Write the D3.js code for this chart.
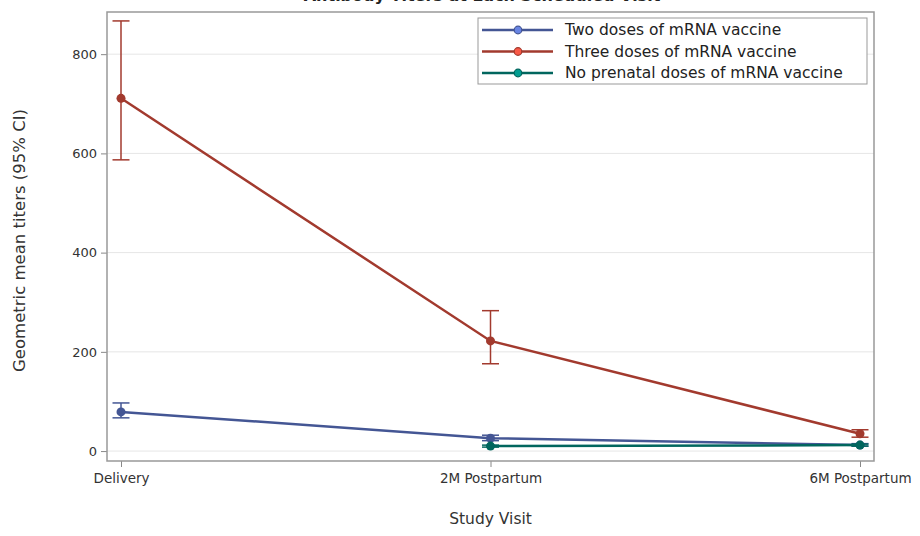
<!DOCTYPE html>
<html>
<head>
<meta charset="utf-8">
<script src="https://cdn.jsdelivr.net/npm/d3@7"></script>
<style>
  html, body { margin: 0; padding: 0; background: #fff; }
  svg { display: block; font-family: "DejaVu Sans", "Open Sans", sans-serif; }
</style>
</head>
<body>
<svg id="chart" width="920" height="536"></svg>
<script>
// Study visits on the x axis
const visits = ["Delivery", "2M Postpartum", "6M Postpartum"];

// Geometric mean titers with 95% confidence limits, per vaccine group
const twoDoseGMT   = [79, 26, 12];
const twoDoseLow   = [67, 21, 10];
const twoDoseHigh  = [97, 32, 15];

const threeDoseGMT  = [711, 222, 35];
const threeDoseLow  = [587, 176, 28];
const threeDoseHigh = [867, 283, 43];

// No prenatal doses: no titer measured at delivery
const noDoseGMT  = [null, 10, 12];
const noDoseLow  = [null, 8, 10];
const noDoseHigh = [null, 12, 14];

const seriesNames  = ["Two doses of mRNA vaccine", "Three doses of mRNA vaccine", "No prenatal doses of mRNA vaccine"];
const seriesColors = ["#445694", "#A23A2E", "#01665E"];

const yTicks = [0, 200, 400, 600, 800];

const series = [
  { name: seriesNames[0], color: seriesColors[0], gmt: twoDoseGMT,   low: twoDoseLow,   high: twoDoseHigh },
  { name: seriesNames[1], color: seriesColors[1], gmt: threeDoseGMT, low: threeDoseLow, high: threeDoseHigh },
  { name: seriesNames[2], color: seriesColors[2], gmt: noDoseGMT,    low: noDoseLow,    high: noDoseHigh }
];

const svg = d3.select("#chart");
const frame = { left: 107, right: 874, top: 12, bottom: 461 };
const inset = 14;

const x = d3.scalePoint()
  .domain(visits)
  .range([frame.left + inset, frame.right - inset]);

const y = d3.scaleLinear()
  .domain([-20, 885])
  .range([frame.bottom, frame.top]);

// Title (sits above the frame)
svg.append("text")
  .attr("x", 482).attr("y", 1)
  .attr("text-anchor", "middle")
  .attr("font-size", 16).attr("font-weight", "bold")
  .attr("fill", "#222")
  .text("Antibody Titers at Each Scheduled Visit");

// Horizontal gridlines
svg.append("g")
  .selectAll("line")
  .data(yTicks)
  .join("line")
  .attr("x1", frame.left).attr("x2", frame.right)
  .attr("y1", d => y(d)).attr("y2", d => y(d))
  .attr("stroke", "#e6e6e6").attr("stroke-width", 1);

// Y axis
const yAxis = svg.append("g")
  .attr("transform", `translate(${frame.left},0)`)
  .call(d3.axisLeft(y).tickValues(yTicks).tickSize(6).tickPadding(4));
yAxis.select(".domain").remove();
yAxis.selectAll(".tick line").attr("stroke", "#888");
yAxis.selectAll(".tick text").attr("fill", "#333").attr("font-size", 13)
  .attr("font-family", "'DejaVu Sans', sans-serif");

// X axis
const xAxis = svg.append("g")
  .attr("transform", `translate(0,${frame.bottom})`)
  .call(d3.axisBottom(x).tickSize(6).tickPadding(6));
xAxis.select(".domain").remove();
xAxis.selectAll(".tick line").attr("stroke", "#888");
xAxis.selectAll(".tick text").attr("fill", "#333").attr("font-size", 13.5)
  .attr("font-family", "'DejaVu Sans', sans-serif");

// Plot frame
svg.append("rect")
  .attr("x", frame.left).attr("y", frame.top)
  .attr("width", frame.right - frame.left).attr("height", frame.bottom - frame.top)
  .attr("fill", "none").attr("stroke", "#999").attr("stroke-width", 1.5);

// Axis titles
svg.append("text")
  .attr("x", (frame.left + frame.right) / 2).attr("y", 524)
  .attr("text-anchor", "middle").attr("font-size", 15.5).attr("fill", "#333")
  .text("Study Visit");

svg.append("text")
  .attr("transform", `translate(25,${(frame.top + frame.bottom) / 2 + 4}) rotate(-90)`)
  .attr("text-anchor", "middle").attr("font-size", 16.5).attr("fill", "#333")
  .text("Geometric mean titers (95% CI)");

// Series: error bars, lines, markers
const line = d3.line()
  .defined(d => d.v != null)
  .x(d => x(d.visit))
  .y(d => y(d.v));

const capHalf = 8.5;

series.forEach(s => {
  const pts = visits.map((v, i) => ({ visit: v, v: s.gmt[i], lo: s.low[i], hi: s.high[i] }))
    .filter(d => d.v != null);
  const g = svg.append("g");

  const eb = g.append("g").attr("stroke", s.color).attr("stroke-width", 1.5);
  eb.selectAll("line.bar").data(pts).join("line").attr("class", "bar")
    .attr("x1", d => x(d.visit)).attr("x2", d => x(d.visit))
    .attr("y1", d => y(d.lo)).attr("y2", d => y(d.hi));
  eb.selectAll("line.capHi").data(pts).join("line").attr("class", "capHi")
    .attr("x1", d => x(d.visit) - capHalf).attr("x2", d => x(d.visit) + capHalf)
    .attr("y1", d => y(d.hi)).attr("y2", d => y(d.hi));
  eb.selectAll("line.capLo").data(pts).join("line").attr("class", "capLo")
    .attr("x1", d => x(d.visit) - capHalf).attr("x2", d => x(d.visit) + capHalf)
    .attr("y1", d => y(d.lo)).attr("y2", d => y(d.lo));

  g.append("path")
    .datum(pts)
    .attr("d", line)
    .attr("fill", "none").attr("stroke", s.color).attr("stroke-width", 2.5);

  g.selectAll("circle").data(pts).join("circle")
    .attr("cx", d => x(d.visit)).attr("cy", d => y(d.v))
    .attr("r", 4.5).attr("fill", s.color);
});

// Legend
const legend = svg.append("g");
legend.append("rect")
  .attr("x", 478).attr("y", 18).attr("width", 389).attr("height", 66)
  .attr("fill", "#fff").attr("stroke", "#999").attr("stroke-width", 1);

series.forEach((s, i) => {
  const cy = 30 + i * 21.5;
  legend.append("line")
    .attr("x1", 482).attr("x2", 553).attr("y1", cy).attr("y2", cy)
    .attr("stroke", s.color).attr("stroke-width", 2.5);
  legend.append("circle")
    .attr("cx", 518).attr("cy", cy).attr("r", 3.8)
    .attr("fill", d3.color(s.color).brighter(1.2)).attr("stroke", s.color).attr("stroke-width", 1.2);
  legend.append("text")
    .attr("x", 565).attr("y", cy + 5)
    .attr("font-size", 15.5).attr("fill", "#222")
    .text(s.name);
});
</script>
</body>
</html>
